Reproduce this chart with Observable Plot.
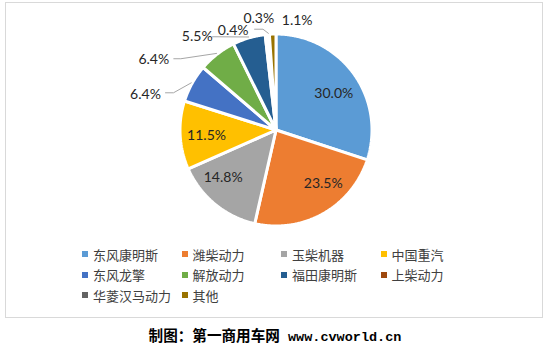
<!DOCTYPE html>
<html>
<head>
<meta charset="utf-8">
<script src="https://cdn.jsdelivr.net/npm/d3@7"></script>
<script src="https://cdn.jsdelivr.net/npm/@observablehq/plot@0.6"></script>
<style>
  html, body { margin: 0; padding: 0; background: #fff; }
  body { width: 548px; height: 352px; position: relative; overflow: hidden; }
  #frame { position: absolute; left: 5px; top: 2px; width: 538px; height: 316px; box-sizing: border-box; border: 1px solid #d9d9d9; }
  #chart { position: absolute; left: 0; top: 0; }
  #legend { position: absolute; left: 76px; top: 241px; display: grid; grid-template-columns: repeat(4, 99.5px); grid-auto-rows: 20.5px; font: 13px "Noto Sans CJK SC", sans-serif; color: #404040; }
  #legend .item { display: flex; align-items: center; white-space: nowrap; }
  #legend .sw { width: 6px; height: 6px; margin-right: 5px; flex: none; }
  #caption { position: absolute; left: 1px; top: 325px; width: 548px; text-align: center; font: bold 14.6px "Noto Sans CJK SC", sans-serif; color: #000; line-height: 20px; }
  #caption .url { font: bold 13.5px "Liberation Mono", monospace; letter-spacing: 0; }
</style>
</head>
<body>
<div id="frame">
  <div id="chart"></div>
  <div id="legend"></div>
</div>
<div id="caption">制图：第一商用车网<span class="url"> www.cvworld.cn</span></div>
<script>
// ---- data ----
const names = ["东风康明斯", "潍柴动力", "玉柴机器", "中国重汽", "东风龙擎", "解放动力", "福田康明斯", "上柴动力", "华菱汉马动力", "其他"];
const shares = [30.0, 23.5, 14.8, 11.5, 6.4, 6.4, 5.5, 0.4, 0.3, 1.1];
const colors = ["#5B9BD5", "#ED7D31", "#A5A5A5", "#FFC000", "#4472C4", "#70AD47", "#255E91", "#9E480E", "#636363", "#997300"];

// ---- label layout (angle in degrees clockwise from top, distance as fraction of radius) ----
const labelAngle = [58, 138.7, 228.2, 265.5, 285.1, 300, 319.9, 336.7, 351.2, 10.96];
const labelDist = [0.71, 0.746, 0.738, 0.726, 1.408, 1.47, 1.274, 1.128, 1.172, 1.161];
// leader lines: slice index, start offset from label anchor (px), horizontal elbow length
const leaderSlices = [4, 5, 6, 8];
const leaderStart = [[20, -2], [20, -0.7], [15.3, 0.3], [-4.2, 10.4]];
const leaderElbow = [8, 7, 0, 8.4];

const W = 536, H = 235, CX = 269.5, CY = 126.5, R = 96;
const rad = a => a * Math.PI / 180;

const arcs = d3.pie().sort(null).value(d => d)(shares);

// slice polygons
const poly = [];
arcs.forEach((a, i) => {
  const n = Math.max(2, Math.ceil((a.endAngle - a.startAngle) / rad(0.5)));
  poly.push({name: names[i], x: 0, y: 0});
  for (let k = 0; k <= n; k++) {
    const t = a.startAngle + (a.endAngle - a.startAngle) * k / n;
    poly.push({name: names[i], x: R * Math.sin(t), y: -R * Math.cos(t)});
  }
  poly.push({name: names[i], x: 0, y: 0});
});

const labelData = shares.map((v, i) => ({
  text: v.toFixed(1) + "%",
  x: labelDist[i] * R * Math.sin(rad(labelAngle[i])),
  y: -labelDist[i] * R * Math.cos(rad(labelAngle[i]))
}));

const leaders = [];
leaderSlices.forEach((s, j) => {
  const L = labelData[s];
  const sx = L.x + leaderStart[j][0], sy = L.y + leaderStart[j][1];
  const mid = (arcs[s].startAngle + arcs[s].endAngle) / 2;
  leaders.push({id: j, x: sx, y: sy});
  if (leaderElbow[j]) leaders.push({id: j, x: sx + leaderElbow[j], y: sy});
  leaders.push({id: j, x: 1.01 * R * Math.sin(mid), y: -1.01 * R * Math.cos(mid)});
});

const chart = Plot.plot({
  width: W,
  height: H,
  margin: 0,
  style: {background: "transparent", overflow: "visible"},
  x: {domain: [-CX, W - CX], range: [0, W], axis: null},
  y: {domain: [-CY, H - CY], range: [0, H], axis: null},
  color: {domain: names, range: colors},
  marks: [
    Plot.line(poly, {x: "x", y: "y", z: "name", fill: "name", stroke: "white", strokeWidth: 3, strokeLinejoin: "miter", curve: "linear"}),
    Plot.line(leaders, {x: "x", y: "y", z: "id", stroke: "#a6a6a6", strokeWidth: 1}),
    Plot.text(labelData, {x: "x", y: "y", text: "text", fontSize: 14, fontFamily: "Lato, 'Liberation Sans', sans-serif", fill: "#262626"})
  ]
});
document.getElementById("chart").appendChild(chart);

const legend = document.getElementById("legend");
names.forEach((n, i) => {
  const item = document.createElement("div");
  item.className = "item";
  const sw = document.createElement("span");
  sw.className = "sw";
  sw.style.background = colors[i];
  const tx = document.createElement("span");
  tx.textContent = n;
  item.appendChild(sw);
  item.appendChild(tx);
  legend.appendChild(item);
});
</script>
</body>
</html>
